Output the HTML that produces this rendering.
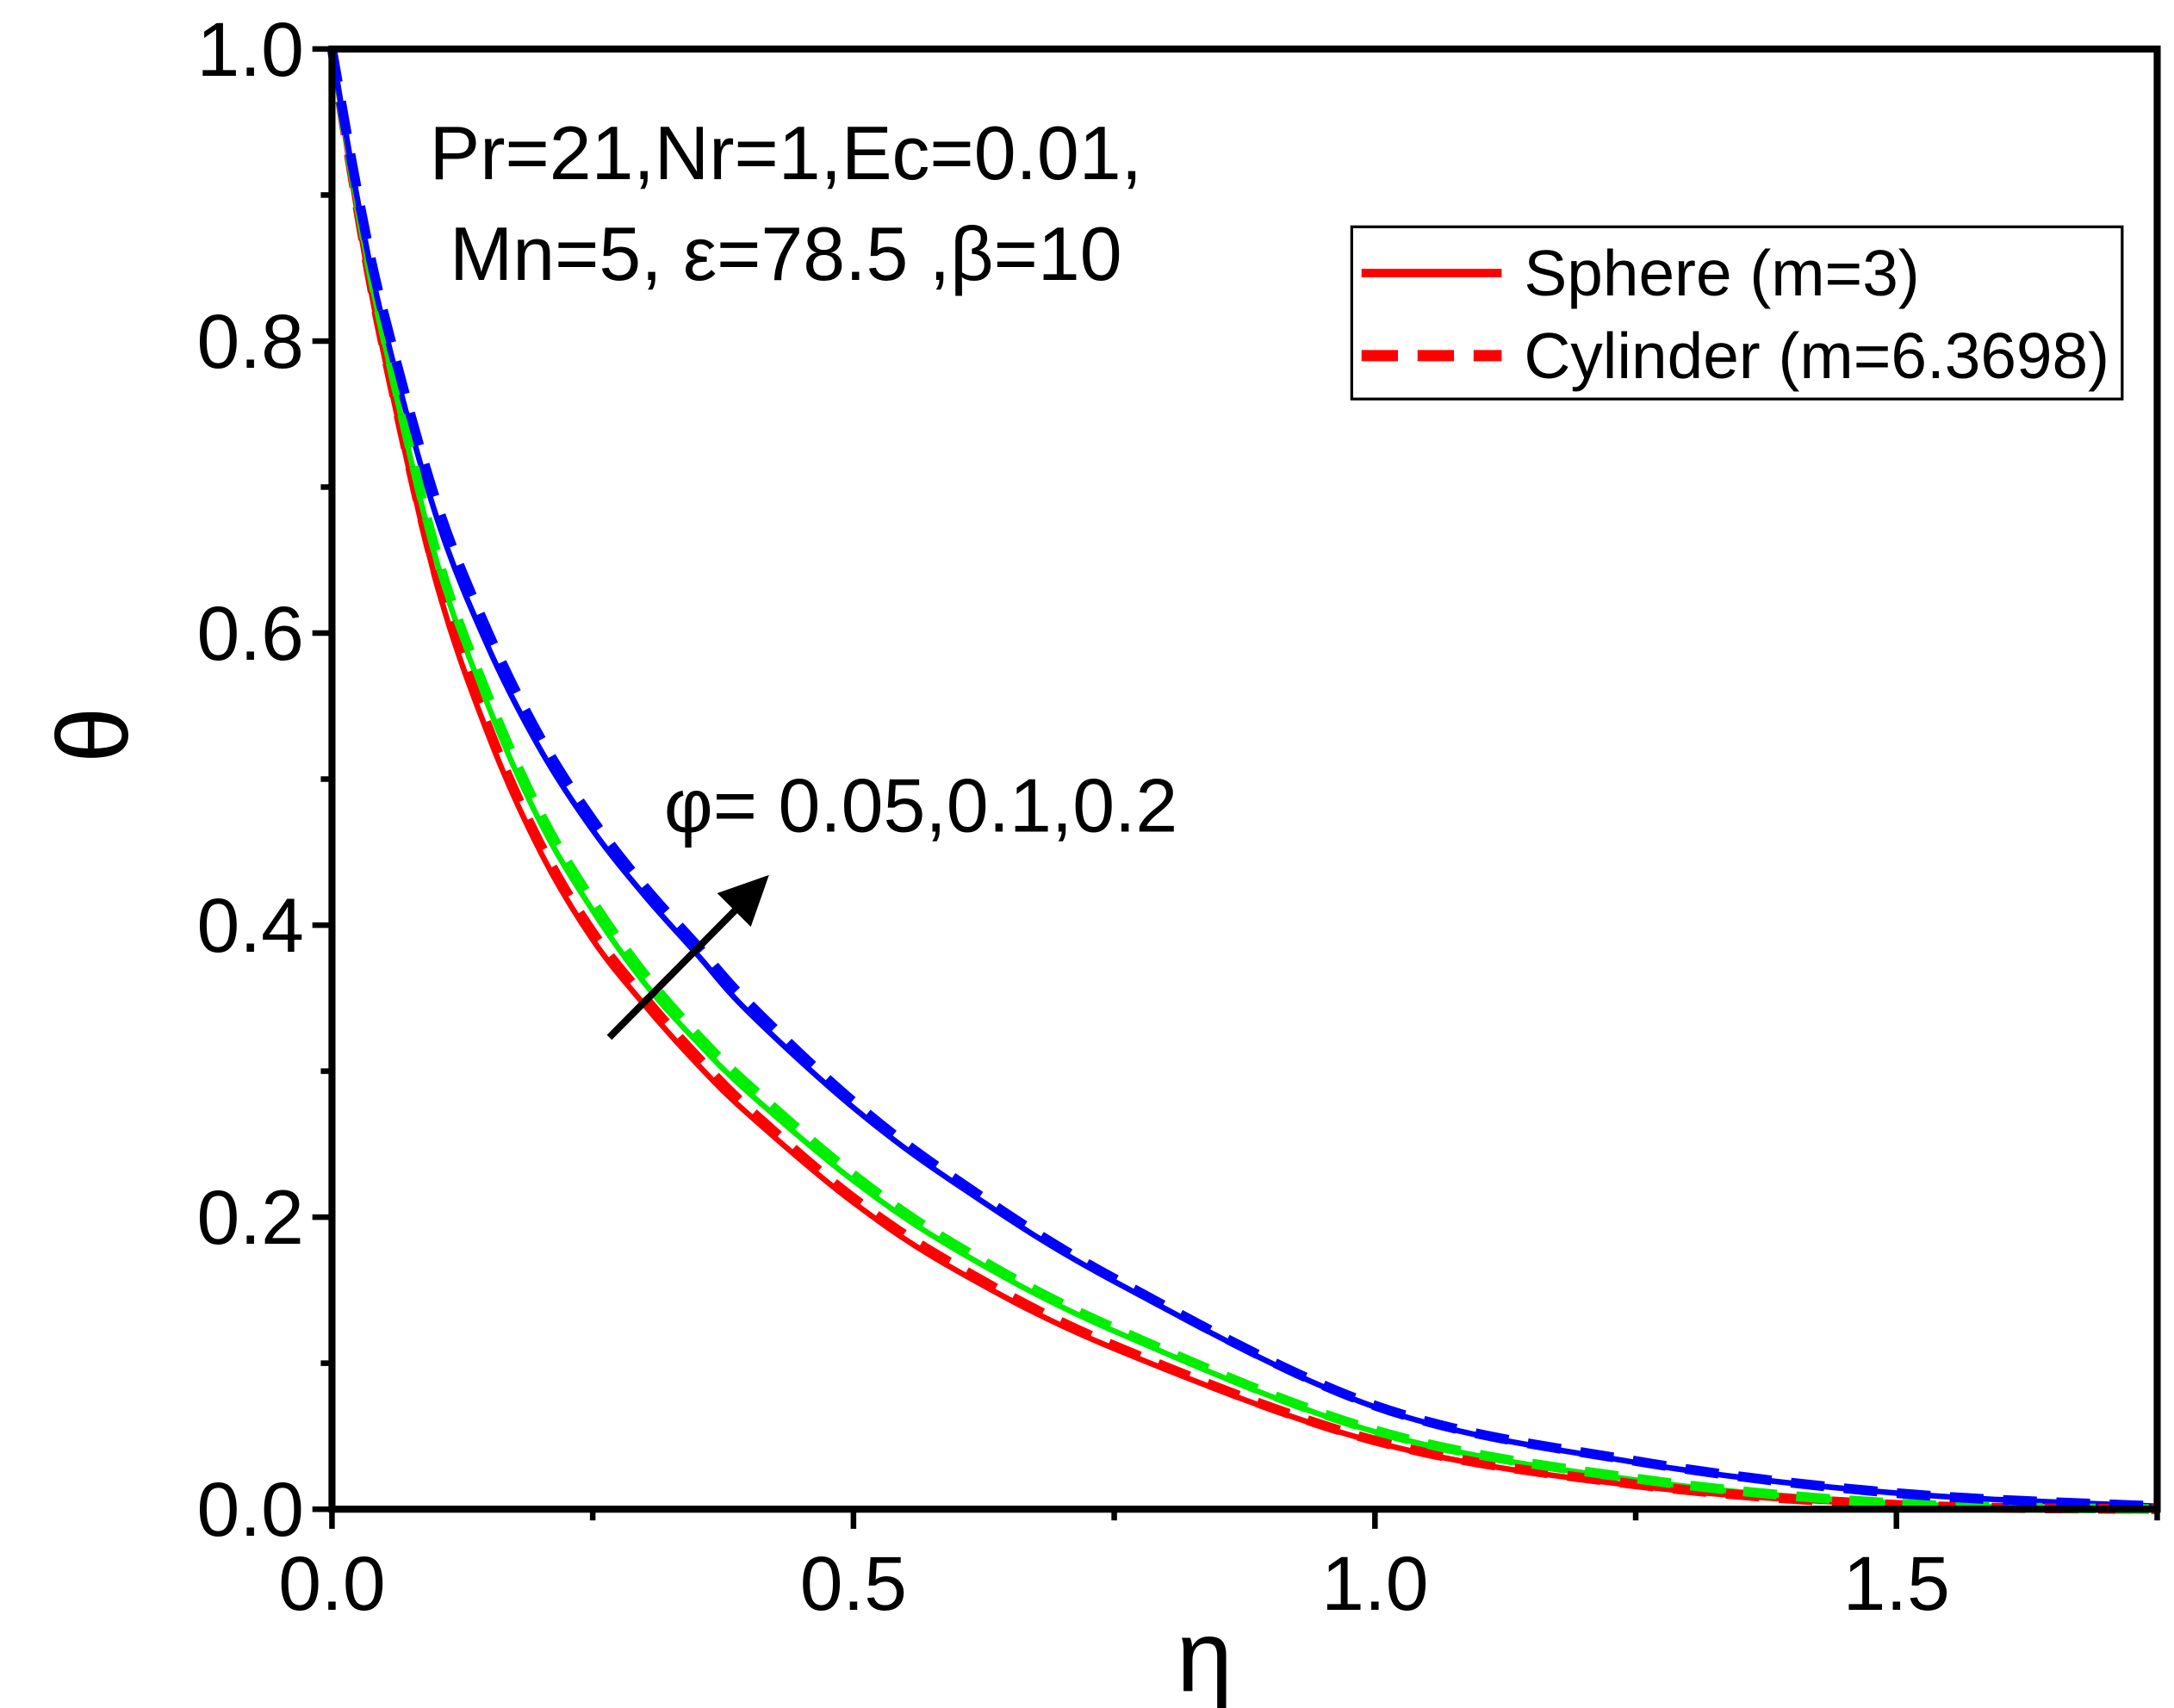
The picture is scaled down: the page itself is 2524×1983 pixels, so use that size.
<!DOCTYPE html>
<html><head><meta charset="utf-8"><style>
html,body{margin:0;padding:0;background:#fff;}
svg{display:block;}
text{font-family:"Liberation Sans",sans-serif;}
</style></head><body>
<svg id="chart" width="2524" height="1983" viewBox="0 0 1552 1220" preserveAspectRatio="none" xmlns="http://www.w3.org/2000/svg">
<g id="curves"></g>
<rect x="237" y="35" width="1303" height="1043" fill="none" stroke="#000" stroke-width="5"/>
<g id="axes"></g>
<text x="68" y="548" font-family="Liberation Serif, serif" font-size="72" text-anchor="middle" transform="rotate(-90 68 525)">θ</text>
<text x="860" y="1208" font-family="Liberation Serif, serif" font-size="72" text-anchor="middle">η</text>
<text x="561" y="128" font-size="54" text-anchor="middle">Pr=21,Nr=1,Ec=0.01,</text>
<text x="561" y="200" font-size="54" text-anchor="middle">Mn=5, ε=78.5 ,β=10</text>
<text x="474" y="594" font-size="54">φ= 0.05,0.1,0.2</text>
<line x1="435" y1="741" x2="530" y2="645" stroke="#000" stroke-width="5"/>
<polygon points="549,625 536,662 512,638" fill="#000"/>
<g>
<rect x="965" y="162" width="550" height="123" fill="#fff" stroke="#000" stroke-width="2"/>
<line x1="972" y1="195" x2="1072" y2="195" stroke="#f00" stroke-width="6"/>
<text x="1088" y="211" font-size="46">Sphere (m=3)</text>
<line x1="972" y1="254" x2="1072" y2="254" stroke="#f00" stroke-width="8" stroke-dasharray="26,14"/>
<text x="1088" y="270" font-size="46">Cylinder (m=6.3698)</text>
</g>
</svg>
<script>
const etaValues=[0,0.025,0.05,0.1,0.15,0.2,0.25,0.3,0.35,0.4,0.5,0.6,0.75,1.0,1.25,1.5,1.75];
const redSolid=[1,0.885,0.79,0.635,0.53,0.45,0.39,0.345,0.305,0.27,0.21,0.163,0.11,0.046,0.016,0.003,0];
const redDashed=[1,0.89,0.795,0.64,0.535,0.455,0.395,0.35,0.31,0.274,0.213,0.166,0.112,0.047,0.017,0.003,0];
const greenSolid=[1,0.89,0.80,0.65,0.55,0.47,0.41,0.36,0.32,0.285,0.225,0.177,0.122,0.053,0.02,0.004,0];
const greenDashed=[1,0.895,0.805,0.655,0.556,0.476,0.416,0.366,0.325,0.29,0.229,0.18,0.124,0.054,0.021,0.004,0];
const blueSolid=[1,0.895,0.81,0.68,0.59,0.52,0.465,0.42,0.38,0.34,0.275,0.222,0.156,0.07,0.032,0.011,0.002];
const blueDashed=[1,0.9,0.818,0.69,0.6,0.528,0.472,0.426,0.386,0.346,0.279,0.225,0.158,0.071,0.033,0.011,0.002];
const xTicks=[0,0.5,1.0,1.5];
const xTickLabels=["0.0","0.5","1.0","1.5"];
const yTicks=[0,0.2,0.4,0.6,0.8,1.0];
const yTickLabels=["0.0","0.2","0.4","0.6","0.8","1.0"];
const NS="http://www.w3.org/2000/svg";
function sx(v){return 237+v/1.75*1303;}
function sy(v){return 1078-v*1043;}
function pathFor(xs,ys){
  const p=xs.map((x,i)=>[sx(x),sy(ys[i])]);
  let d="M"+p[0][0]+","+p[0][1];
  for(let i=0;i<p.length-1;i++){
    const p0=p[Math.max(0,i-1)],p1=p[i],p2=p[i+1],p3=p[Math.min(p.length-1,i+2)];
    const c1=[p1[0]+(p2[0]-p0[0])/6,p1[1]+(p2[1]-p0[1])/6];
    const c2=[p2[0]-(p3[0]-p1[0])/6,p2[1]-(p3[1]-p1[1])/6];
    d+=" C"+c1[0]+","+c1[1]+" "+c2[0]+","+c2[1]+" "+p2[0]+","+p2[1];
  }
  return d;
}
const curves=document.getElementById('curves');
function addCurve(ys,color,dashed,name){
  const el=document.createElementNS(NS,'path');
  el.setAttribute('d',pathFor(etaValues,ys));
  el.setAttribute('fill','none');
  el.setAttribute('stroke',color);
  el.setAttribute('stroke-width',dashed?7:4);
  if(dashed)el.setAttribute('stroke-dasharray','24,14');
  
  
  curves.appendChild(el);
}
addCurve(redSolid,'#f00',false,'sphere-phi-0.05');
addCurve(greenSolid,'#0e0',false,'sphere-phi-0.1');
addCurve(blueSolid,'#00f',false,'sphere-phi-0.2');
addCurve(redDashed,'#f00',true,'cylinder-phi-0.05');
addCurve(greenDashed,'#0e0',true,'cylinder-phi-0.1');
addCurve(blueDashed,'#00f',true,'cylinder-phi-0.2');
const axes=document.getElementById('axes');
xTicks.forEach((t,i)=>{
  const l=document.createElementNS(NS,'line');
  l.setAttribute('x1',sx(t));l.setAttribute('x2',sx(t));
  l.setAttribute('y1',1078);l.setAttribute('y2',1092);
  l.setAttribute('stroke','#000');l.setAttribute('stroke-width',4);
  
  
  axes.appendChild(l);
  const m=document.createElementNS(NS,'line');
  const mid=t+0.25;
  m.setAttribute('x1',sx(mid));m.setAttribute('x2',sx(mid));
  m.setAttribute('y1',1078);m.setAttribute('y2',1086);
  m.setAttribute('stroke','#000');m.setAttribute('stroke-width',4);
  
  
  axes.appendChild(m);
  const tx=document.createElementNS(NS,'text');
  tx.setAttribute('x',sx(t));tx.setAttribute('y',1150);
  tx.setAttribute('font-size',55);tx.setAttribute('text-anchor','middle');
  tx.textContent=xTickLabels[i];
  
  
  axes.appendChild(tx);
});
yTicks.forEach((t,i)=>{
  const l=document.createElementNS(NS,'line');
  l.setAttribute('x1',223);l.setAttribute('x2',237);
  l.setAttribute('y1',sy(t));l.setAttribute('y2',sy(t));
  l.setAttribute('stroke','#000');l.setAttribute('stroke-width',4);
  
  
  axes.appendChild(l);
  if(t<1){
    const m=document.createElementNS(NS,'line');
    m.setAttribute('x1',229);m.setAttribute('x2',237);
    m.setAttribute('y1',sy(t+0.1));m.setAttribute('y2',sy(t+0.1));
    m.setAttribute('stroke','#000');m.setAttribute('stroke-width',4);
    
    
    axes.appendChild(m);
  }
  const tx=document.createElementNS(NS,'text');
  tx.setAttribute('x',217);tx.setAttribute('y',sy(t)+19);
  tx.setAttribute('font-size',55);tx.setAttribute('text-anchor','end');
  tx.textContent=yTickLabels[i];
  
  
  axes.appendChild(tx);
});
</script>
</body></html>
